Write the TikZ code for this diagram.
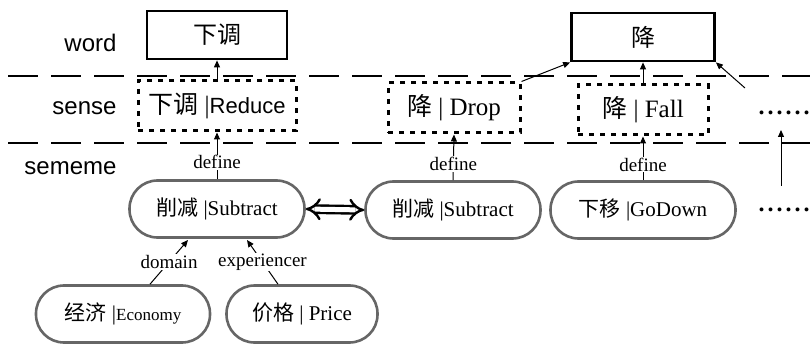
\documentclass[tikz,border=0pt]{standalone}
\usepackage{fontspec}
\setmainfont{Liberation Serif}
\setsansfont{Liberation Sans}
\newfontfamily\cjk{Noto Sans CJK SC}
\usetikzlibrary{arrows.meta}

\newcommand{\moredots}{.\kern3pt.\kern3pt.\kern3pt.\kern3pt.\kern3pt.}

\tikzset{
  layerlabel/.style={anchor=east,font=\sffamily\fontsize{24}{28}\selectfont},
  wordbox/.style={draw,line width=2.8pt,minimum width=140pt,minimum height=48pt,font=\fontsize{24}{28}\selectfont},
  sensebox/.style={draw,line width=3pt,dash pattern=on 5pt off 6pt,minimum height=50pt,inner xsep=5pt,font=\fontsize{25}{30}\selectfont},
  sememebox/.style={draw=black!60,line width=2.6pt,rounded corners=28pt,minimum height=57pt,inner xsep=16pt,font=\fontsize{21}{26}\selectfont},
  rel/.style={font=\fontsize{19}{22}\selectfont,fill=white,inner sep=1pt},
  uparrow/.style={line width=1pt,-{Triangle[length=7pt,width=6pt]}},
  layerline/.style={line width=1.3pt,dash pattern=on 30pt off 13pt},
  dotsnode/.style={font=\bfseries\fontsize{24}{28}\selectfont,inner sep=0pt}
}

\begin{document}
\begin{tikzpicture}[x=1pt,y=-1pt]
  \useasboundingbox (0,0) rectangle (810,347);
  % layer names
  \node[layerlabel] (lword) at (120,43) {word};
  \node[layerlabel] (lsense) at (120,108) {sense};
  \node[layerlabel] (lsememe) at (120,168) {sememe};
  \draw[layerline] (8,76) -- (810,76);
  \draw[layerline] (8,143) -- (810,143);
  % words
  \node[wordbox] (w1) at (217,35) {\cjk 下调};
  \node[wordbox,minimum width=143pt] (w2) at (643,37) {\cjk 降};
  % senses
  \node[sensebox,minimum width=158pt] (s1) at (217,106) {{\cjk 下调} |\sffamily\fontsize{22}{26}\selectfont Reduce};
  \node[sensebox,minimum width=132pt] (s2) at (454,108) {{\cjk 降} | Drop};
  \node[sensebox,minimum width=130pt] (s3) at (643,110) {{\cjk 降} | Fall};
  \node[dotsnode] (sdots) at (784,113) {\moredots};
  % sememes
  \node[sememebox,minimum width=175pt] (m1) at (217,209) {{\cjk 削减} |Subtract};
  \node[sememebox,minimum width=175pt] (m2) at (453,210) {{\cjk 削减} |Subtract};
  \node[sememebox,minimum width=185pt] (m3) at (643,210) {{\cjk 下移} |GoDown};
  \node[dotsnode] (mdots) at (784,210) {\moredots};
  \node[sememebox,minimum width=174pt] (e1) at (123,314) {{\cjk 经济} |\fontsize{17}{20}\selectfont Economy};
  \node[sememebox,minimum width=151pt] (e2) at (302,314) {{\cjk 价格} | Price};
  % connectors
  \draw[uparrow] (s1.north) -- (w1.south);
  \draw[uparrow] (s2.north east) -- (w2.south west);
  \draw[uparrow] (s3.north) -- (w2.south);
  \coordinate (dtop) at (745,88);
  \draw[uparrow] (dtop) -- (w2.south east);
  \coordinate (dlow) at (781,186);
  \draw[uparrow] (dlow) -- (781,130);
  \draw[uparrow] (m1.north) -- node[rel,pos=0.36] {define} (s1.south);
  \draw[uparrow] (m2.north) -- node[rel,pos=0.36] {define} (s2.south);
  \draw[uparrow] (m3.north) -- node[rel,pos=0.36] {define} (s3.south);
  \draw[line width=2.4pt,double,double distance=5pt,{Implies}-{Implies}] (m1.east) -- (m2.west);
  \draw[uparrow] (e1.north) ++(27,0) coordinate (e1n) -- node[rel] {domain} (188,240);
  \draw[uparrow] (e2.north) ++(-24,0) coordinate (e2n) -- node[rel] {experiencer} (247,240);
\end{tikzpicture}
\end{document}
